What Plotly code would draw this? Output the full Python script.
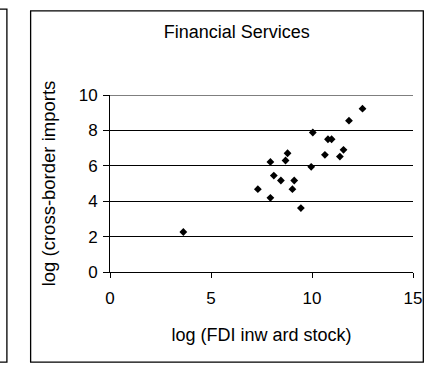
import plotly.graph_objects as go

# values
fdi_stock = [3.63, 7.32, 7.94, 7.94, 8.11, 8.46, 8.69, 8.79, 9.03, 9.12,
             9.45, 9.96, 10.04, 10.64, 10.79, 10.97, 11.38, 11.56, 11.83, 12.50]
cb_imports = [2.26, 4.68, 6.22, 4.19, 5.45, 5.17, 6.30, 6.71, 4.68, 5.17,
              3.61, 5.94, 7.88, 6.62, 7.50, 7.50, 6.52, 6.90, 8.55, 9.23]
x_ticks = [0, 5, 10, 15]
y_ticks = [0, 2, 4, 6, 8, 10]

W, H = 424, 365
# plot area in pixels
L, R, T, B = 110, 412.7, 95, 272.3


def px(x):  # pixel -> paper x
    return (x - L) / (R - L)


def py(y):  # pixel -> paper y
    return (B - y) / (B - T)


fig = go.Figure(go.Scatter(
    x=fdi_stock, y=cb_imports, mode='markers',
    marker=dict(symbol='diamond', size=6, color='black'),
    hoverinfo='x+y'))

font = 'Arial, Liberation Sans, sans-serif'

fig.update_layout(
    width=W, height=H,
    margin=dict(l=L, r=W - R, t=T, b=H - B, pad=0),
    paper_bgcolor='white', plot_bgcolor='white',
    showlegend=False,
    font=dict(family=font, size=17, color='black'),
    title=dict(text='Financial Services', x=236.7 / W, xanchor='center',
               y=1 - 32 / H, yanchor='middle',
               font=dict(size=18, color='black')),
)

fig.update_xaxes(
    range=[0, 15], tickvals=x_ticks, showgrid=False, zeroline=False,
    showline=True, linecolor='black', linewidth=1, automargin=False,
    ticks='outside', ticklen=5, tickcolor='black', ticklabelstandoff=6,
    tickfont=dict(size=17),
    title=dict(text='log (FDI inw ard stock)', font=dict(size=18), standoff=20))

fig.update_yaxes(
    range=[0, 10], tickvals=y_ticks, showgrid=True, gridcolor='black',
    gridwidth=1, zeroline=False, automargin=False,
    showline=True, linecolor='black', linewidth=1,
    ticks='outside', ticklen=6, tickcolor='black', ticklabelstandoff=2,
    tickfont=dict(size=17),
    title=dict(text='log (cross-border imports', font=dict(size=18.5), standoff=18))

# top gridline (plotly skips the one on the range edge)
fig.add_hline(y=y_ticks[-1], line=dict(color='black', width=1), layer='below')

# chart frames (this one and the edge of the neighbouring one)
line = dict(color='black', width=1.3)
fig.add_shape(type='rect', xref='paper', yref='paper', layer='below',
              x0=px(30.7), x1=px(423), y0=py(362.5), y1=py(10.7), line=line)
fig.add_shape(type='path', xref='paper', yref='paper', layer='below',
              path=f'M {px(0)} {py(9)} L {px(7)} {py(9)} L {px(7)} {py(362.5)} L {px(0)} {py(362.5)}',
              line=line)

fig.write_html('out.html', config={'displayModeBar': False},
               post_script="document.body.style.margin='0';")
